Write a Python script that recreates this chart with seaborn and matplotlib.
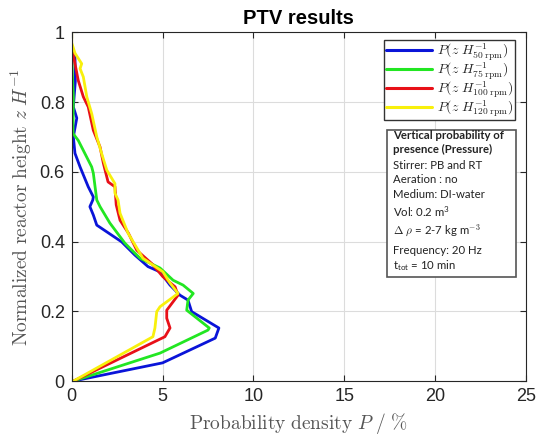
import numpy as np
import pandas as pd
import matplotlib
matplotlib.use("Agg")
import matplotlib.pyplot as plt
from matplotlib.patches import Rectangle
import seaborn as sns

# Vertical probability-of-presence profiles (P in %, z/H normalized height)
p_50 = [0.1, 5.0, 7.9, 8.1, 6.6, 6.4, 5.96, 5.41, 4.86, 4.2, 3.48, 2.75, 1.38, 1.19, 1.0,
        1.16, 1.19, 0.91, 0.46, 0.18, 0.09, 0.28, 0.09, 0.2, 0.18, 0.0]
z_50 = [0.0, 0.052, 0.123, 0.152, 0.199, 0.232, 0.246, 0.275, 0.313, 0.328, 0.361, 0.399,
        0.447, 0.476, 0.50, 0.519, 0.528, 0.557, 0.614, 0.653, 0.70, 0.754, 0.786, 0.86,
        0.93, 0.95]

p_75 = [0.1, 4.86, 7.5, 7.57, 6.33, 6.4, 6.69, 6.13, 5.58, 4.86, 3.76, 2.93, 2.1, 1.56,
        1.38, 1.19, 1.1, 0.36, 0.07, 0.09, 0.03, 0.0]
z_75 = [0.0, 0.08, 0.146, 0.152, 0.203, 0.232, 0.251, 0.275, 0.289, 0.324, 0.352, 0.395,
        0.453, 0.50, 0.519, 0.596, 0.614, 0.69, 0.71, 0.815, 0.89, 0.95]

p_100 = [0.1, 5.13, 5.41, 5.23, 5.23, 5.85, 5.69, 5.02, 4.4, 3.58, 3.12, 2.66, 2.45, 2.38,
         2.0, 1.74, 1.56, 1.19, 0.91, 0.64, 0.36, 0.18, 0.07, 0.0]
z_100 = [0.0, 0.127, 0.152, 0.18, 0.203, 0.246, 0.27, 0.299, 0.337, 0.375, 0.424, 0.461,
         0.505, 0.557, 0.571, 0.625, 0.671, 0.719, 0.786, 0.815, 0.862, 0.91, 0.94, 0.95]

p_120 = [0.1, 4.47, 4.58, 4.68, 4.86, 5.85, 5.41, 5.02, 3.92, 3.1, 2.66, 2.55, 2.38, 2.38,
         1.93, 1.65, 1.38, 1.1, 0.83, 0.64, 0.46, 0.55, 0.18, 0.0, 0.0]
z_120 = [0.0, 0.127, 0.152, 0.199, 0.213, 0.251, 0.281, 0.313, 0.352, 0.424, 0.481, 0.519,
         0.539, 0.566, 0.605, 0.652, 0.70, 0.767, 0.815, 0.872, 0.896, 0.91, 0.94, 0.97, 1.0]

series_labels = [r"$P(z\ H^{-1}_{50\ \mathrm{rpm}})$",
                 r"$P(z\ H^{-1}_{75\ \mathrm{rpm}})$",
                 r"$P(z\ H^{-1}_{100\ \mathrm{rpm}})$",
                 r"$P(z\ H^{-1}_{120\ \mathrm{rpm}})$"]
colors = ["#0a14d8", "#22e622", "#e81018", "#f8f00c"]

x_ticks = [0, 5, 10, 15, 20, 25]
y_ticks = [0, 0.2, 0.4, 0.6, 0.8, 1]
y_tick_labels = ["0", "0.2", "0.4", "0.6", "0.8", "1"]

info_lines = [
    ("Vertical probability of", "bold", "custom"),
    ("presence (Pressure)", "bold", "custom"),
    ("Stirrer: PB and RT", "normal", "custom"),
    ("Aeration : no", "normal", "custom"),
    ("Medium: DI-water", "normal", "custom"),
    (r"Vol: 0.2 m$^{\mathregular{3}}$", "normal", "custom"),
    (r"$\Delta\ \rho$ = 2-7 kg m$^{-3}$", "normal", "cm"),
    ("Frequency: 20 Hz", "normal", "custom"),
    (r"t$_{\mathregular{tot}}$ = 10 min", "normal", "custom"),
]

frames = []
for lab, p, z in zip(series_labels, [p_50, p_75, p_100, p_120], [z_50, z_75, z_100, z_120]):
    frames.append(pd.DataFrame({"P": p, "z": z, "series": lab}))
df = pd.concat(frames, ignore_index=True)

sns.set_theme(style="white")
plt.rcParams["font.family"] = ["Liberation Sans", "DejaVu Sans"]
plt.rcParams["mathtext.fontset"] = "custom"
plt.rcParams["mathtext.rm"] = "Lato"
plt.rcParams["mathtext.it"] = "Lato:italic"
plt.rcParams["mathtext.bf"] = "Lato:bold"

fig = plt.figure(figsize=(5.39, 4.43), dpi=100)
ax = fig.add_axes([71.7 / 539, 1 - 381 / 443, (526 - 71.7) / 539, (381 - 32.3) / 443])

sns.lineplot(data=df, x="P", y="z", hue="series", palette=colors, sort=False,
             estimator=None, units="series", linewidth=2.0, ax=ax, legend=True)

ax.set_xlim(0, 25)
ax.set_ylim(0, 1)
ax.set_xticks(x_ticks)
ax.set_yticks(y_ticks)
ax.set_yticklabels(y_tick_labels)
ax.grid(True, color="#dcdcdc", linewidth=0.8)
ax.tick_params(direction="in", length=4, width=0.8, colors="#262626", labelsize=13,
               top=True, right=True, bottom=True, left=True, pad=5)
for s in ax.spines.values():
    s.set_color("#262626")
    s.set_linewidth(0.8)

ax.set_xlabel(r"$\mathrm{Probability\ density}\ P\ /\ \%$", fontsize=14,
              color="#555555", math_fontfamily="cm", labelpad=4)
ax.set_ylabel(r"$\mathrm{Normalized\ reactor\ height}\ z\ H^{-1}$", fontsize=14,
              color="#555555", math_fontfamily="cm", labelpad=4)
ax.set_title("PTV results", fontsize=14.5, fontweight="bold", color="black", pad=6)

handles, labels = ax.get_legend_handles_labels()
leg = ax.legend(handles, labels, loc="upper right", bbox_to_anchor=(0.975, 0.978),
                borderaxespad=0, frameon=True, fancybox=False, framealpha=1,
                edgecolor="#333333", handlelength=3.4, labelspacing=-0.15,
                borderpad=0.1, handletextpad=0.35,
                prop={"math_fontfamily": "cm", "size": 9.8})
leg.get_frame().set_linewidth(1.0)
leg.set_zorder(12)
for line in leg.get_lines():
    line.set_linewidth(2.2)

# information box
box_left, box_right = 0.693, 0.977
box_top, box_bottom = (381 - 130) / 349, (381 - 277) / 349
ax.add_patch(Rectangle((box_left, box_bottom), box_right - box_left, box_top - box_bottom,
                       transform=ax.transAxes, facecolor="white", edgecolor="#555555",
                       linewidth=1.2, zorder=10, clip_on=False))
line_px = [135.7, 149, 165, 179.5, 194.5, 212, 231, 250.5, 266]
for (txt, weight, mf), ypx in zip(info_lines, line_px):
    ax.text((393 - 71.7) / 454.3, (381 - ypx) / 349, txt, transform=ax.transAxes,
            fontsize=8.2, fontweight=weight, family="Lato", color="#222222",
            va="center", ha="left", zorder=11, math_fontfamily=mf)

fig.savefig("out.png", dpi=100)
